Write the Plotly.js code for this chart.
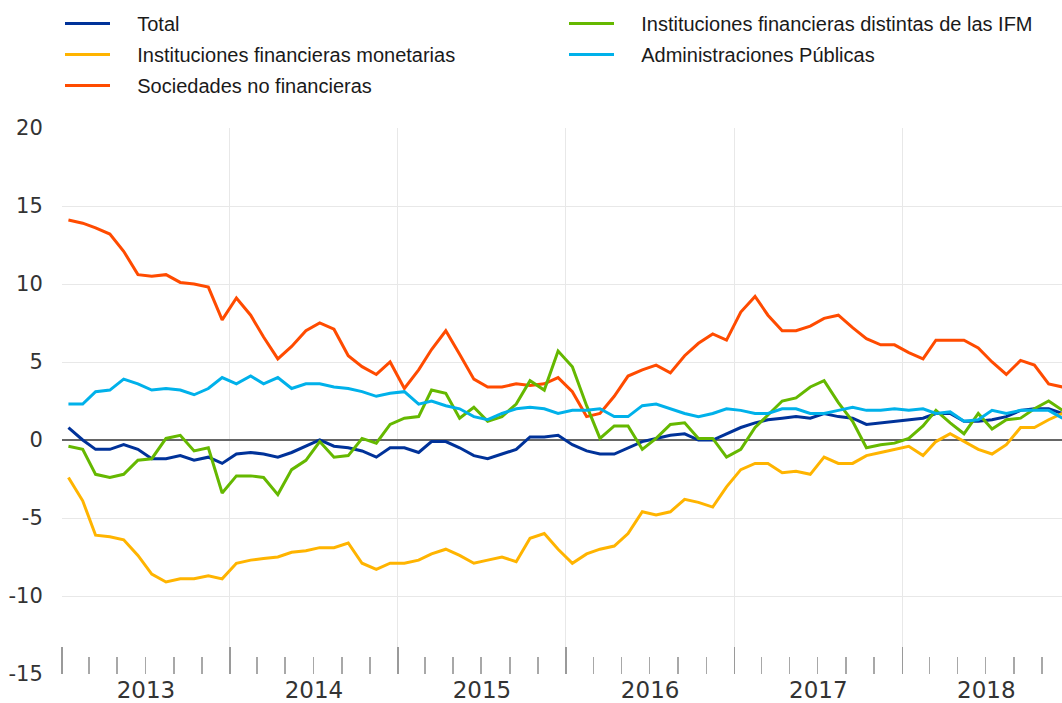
<!DOCTYPE html>
<html>
<head>
<meta charset="utf-8">
<script src="https://cdn.plot.ly/plotly-3.0.1.min.js"></script>
<style>
  html, body { margin: 0; padding: 0; background: #ffffff; }
  #chart { width: 1062px; height: 703px; }
</style>
</head>
<body>
<div id="chart"></div>
<script>
// Monthly observations, January 2013 to December 2018
const startYear = 2013;
const nMonths = 72;
const months = [];
for (let i = 0; i < nMonths; i++) {
  const y = startYear + Math.floor(i / 12);
  const m = (i % 12) + 1;
  months.push(y + '-' + String(m).padStart(2, '0') + '-15');
}

const seriesNames = [
  'Total',
  'Instituciones financieras monetarias',
  'Sociedades no financieras',
  'Instituciones financieras distintas de las IFM',
  'Administraciones Públicas'
];

const total = [
  0.8, 0.0, -0.6, -0.6, -0.3, -0.6, -1.2, -1.2, -1.0, -1.3, -1.1, -1.5,
  -0.9, -0.8, -0.9, -1.1, -0.8, -0.4, 0.0, -0.4, -0.5, -0.7, -1.1, -0.5,
  -0.5, -0.8, -0.1, -0.1, -0.5, -1.0, -1.2, -0.9, -0.6, 0.2, 0.2, 0.3,
  -0.3, -0.7, -0.9, -0.9, -0.5, -0.1, 0.1, 0.3, 0.4, 0.0, 0.0, 0.4,
  0.8, 1.1, 1.3, 1.4, 1.5, 1.4, 1.7, 1.5, 1.4, 1.0, 1.1, 1.2,
  1.3, 1.4, 1.7, 1.7, 1.2, 1.2, 1.3, 1.5, 1.9, 2.0, 2.0, 1.7
];

const ifm = [
  -2.4, -3.9, -6.1, -6.2, -6.4, -7.4, -8.6, -9.1, -8.9, -8.9, -8.7, -8.9,
  -7.9, -7.7, -7.6, -7.5, -7.2, -7.1, -6.9, -6.9, -6.6, -7.9, -8.3, -7.9,
  -7.9, -7.7, -7.3, -7.0, -7.4, -7.9, -7.7, -7.5, -7.8, -6.3, -6.0, -7.0,
  -7.9, -7.3, -7.0, -6.8, -6.0, -4.6, -4.8, -4.6, -3.8, -4.0, -4.3, -3.0,
  -1.9, -1.5, -1.5, -2.1, -2.0, -2.2, -1.1, -1.5, -1.5, -1.0, -0.8, -0.6,
  -0.4, -1.0, -0.1, 0.4, -0.1, -0.6, -0.9, -0.3, 0.8, 0.8, 1.3, 1.7
];

const snf = [
  14.1, 13.9, 13.6, 13.2, 12.1, 10.6, 10.5, 10.6, 10.1, 10.0, 9.8, 7.7,
  9.1, 8.0, 6.6, 5.2, 6.0, 7.0, 7.5, 7.1, 5.4, 4.7, 4.2, 5.0,
  3.3, 4.5, 5.8, 7.0, 5.5, 3.9, 3.4, 3.4, 3.6, 3.5, 3.6, 4.0,
  3.1, 1.5, 1.7, 2.8, 4.1, 4.5, 4.8, 4.3, 5.4, 6.2, 6.8, 6.4,
  8.2, 9.2, 8.0, 7.0, 7.0, 7.3, 7.8, 8.0, 7.2, 6.5, 6.1, 6.1,
  5.6, 5.2, 6.4, 6.4, 6.4, 5.9, 5.0, 4.2, 5.1, 4.8, 3.6, 3.4
];

const ifNoIfm = [
  -0.4, -0.6, -2.2, -2.4, -2.2, -1.3, -1.2, 0.1, 0.3, -0.7, -0.5, -3.4,
  -2.3, -2.3, -2.4, -3.5, -1.9, -1.3, -0.1, -1.1, -1.0, 0.1, -0.2, 1.0,
  1.4, 1.5, 3.2, 3.0, 1.4, 2.1, 1.2, 1.5, 2.3, 3.8, 3.2, 5.7,
  4.7, 2.2, 0.1, 0.9, 0.9, -0.6, 0.1, 1.0, 1.1, 0.1, 0.1, -1.1,
  -0.6, 0.8, 1.6, 2.5, 2.7, 3.4, 3.8, 2.4, 1.2, -0.5, -0.3, -0.2,
  0.1, 0.9, 1.9, 1.1, 0.4, 1.7, 0.7, 1.3, 1.4, 2.0, 2.5, 1.9
];

const aapp = [
  2.3, 2.3, 3.1, 3.2, 3.9, 3.6, 3.2, 3.3, 3.2, 2.9, 3.3, 4.0,
  3.6, 4.1, 3.6, 4.0, 3.3, 3.6, 3.6, 3.4, 3.3, 3.1, 2.8, 3.0,
  3.1, 2.3, 2.5, 2.2, 2.0, 1.5, 1.3, 1.7, 2.0, 2.1, 2.0, 1.7,
  1.9, 1.9, 2.0, 1.5, 1.5, 2.2, 2.3, 2.0, 1.7, 1.5, 1.7, 2.0,
  1.9, 1.7, 1.7, 2.0, 2.0, 1.7, 1.7, 1.9, 2.1, 1.9, 1.9, 2.0,
  1.9, 2.0, 1.7, 1.8, 1.2, 1.3, 1.9, 1.7, 1.9, 1.9, 1.9, 1.4
];

const yTickVals = [-15, -10, -5, 0, 5, 10, 15, 20];
const yTickText = ['-15', '-10', '-5', '0', '5', '10', '15', '20'];

const colors = ['#003299', '#ffb400', '#ff4b00', '#65b800', '#00b1ea'];
const values = [total, ifm, snf, ifNoIfm, aapp];
const legendOf = ['legend', 'legend', 'legend', 'legend2', 'legend2'];
const legendPad = '\u00a0\u00a0\u00a0\u00a0';

const traces = values.map((v, i) => ({
  type: 'scatter',
  mode: 'lines',
  x: months,
  y: v,
  name: legendPad + seriesNames[i],
  legend: legendOf[i],
  legendgroup: 'g' + i,
  line: { color: colors[i], width: 3 },
  hoverinfo: 'x+y'
}));

const xRange = ['2013-01-01', '2018-12-14'];

const legendFont = { family: 'Liberation Sans, Arial', size: 20, color: '#1a1a1a' };

const layout = {
  width: 1062,
  height: 703,
  margin: { l: 62, r: 0, t: 128, b: 29, pad: 0 },
  paper_bgcolor: '#ffffff',
  plot_bgcolor: '#ffffff',
  showlegend: true,
  xaxis: {
    type: 'date',
    range: xRange,
    tick0: '2013-01-01',
    dtick: 'M12',
    tickformat: '%Y',
    ticklabelmode: 'period',
    ticks: 'inside',
    ticklen: 27,
    tickwidth: 1.5,
    tickcolor: '#9a9a9a',
    showgrid: true,
    gridcolor: '#e8e8e8',
    gridwidth: 1,
    zeroline: false,
    showline: false,
    tickfont: { family: 'DejaVu Sans', size: 23, color: '#333333' },
    minor: {
      dtick: 'M2',
      tick0: '2013-01-01',
      ticks: 'inside',
      ticklen: 17,
      tickwidth: 1.5,
      tickcolor: '#a8a8a8',
      showgrid: false
    },
    automargin: false,
    fixedrange: true
  },
  yaxis: {
    range: [-15, 20],
    tickvals: yTickVals,
    ticktext: yTickText,
    ticks: 'outside',
    ticklen: 14,
    tickcolor: 'rgba(0,0,0,0)',
    showgrid: true,
    gridcolor: '#e8e8e8',
    gridwidth: 1,
    zeroline: true,
    zerolinecolor: '#666666',
    zerolinewidth: 1.5,
    showline: false,
    tickfont: { family: 'DejaVu Sans', size: 21, color: '#333333' },
    automargin: false,
    fixedrange: true
  },
  legend: {
    x: -0.002, y: 1.227, xanchor: 'left', yanchor: 'top',
    orientation: 'v',
    bgcolor: 'rgba(0,0,0,0)',
    borderwidth: 0,
    itemwidth: 45,
    tracegroupgap: 2,
    traceorder: 'grouped',
    font: legendFont
  },
  legend2: {
    x: 0.502, y: 1.227, xanchor: 'left', yanchor: 'top',
    orientation: 'v',
    bgcolor: 'rgba(0,0,0,0)',
    borderwidth: 0,
    itemwidth: 45,
    tracegroupgap: 2,
    traceorder: 'grouped',
    font: legendFont
  }
};

Plotly.newPlot('chart', traces, layout, { displayModeBar: false, staticPlot: true });
</script>
</body>
</html>
